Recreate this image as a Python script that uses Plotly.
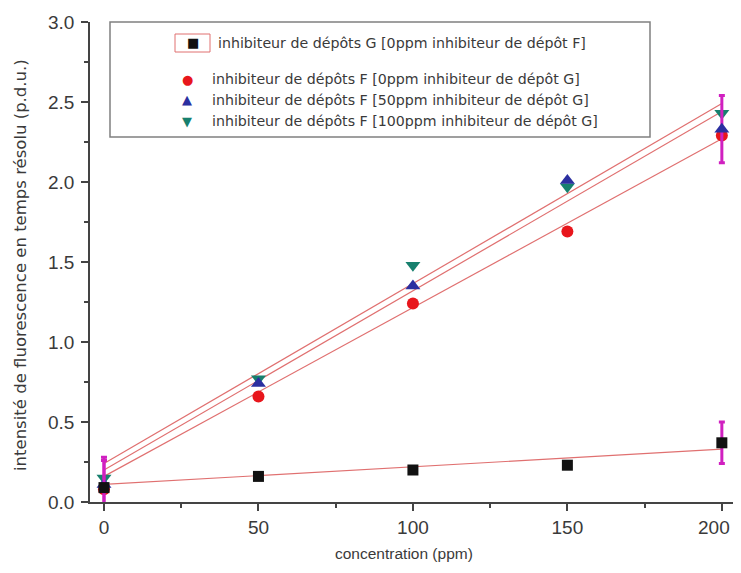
import plotly.graph_objects as go

# ---- data ----
conc = [0, 50, 100, 150, 200]
g_0ppmF = [0.09, 0.16, 0.20, 0.23, 0.37]          # inhibiteur G, 0ppm F
f_0ppmG = [0.08, 0.66, 1.24, 1.69, 2.29]          # inhibiteur F, 0ppm G
f_50ppmG = [0.11, 0.74, 1.35, 2.01, 2.33]         # inhibiteur F, 50ppm G
f_100ppmG = [0.15, 0.77, 1.48, 1.97, 2.43]        # inhibiteur F, 100ppm G

g_err = [0.17, 0, 0, 0, 0.13]
f50_err = [0.17, 0, 0, 0, 0.21]

# linear fit lines (end values)
fit_x = [0, 200]
fit_g = [0.11, 0.33]
fit_f0 = [0.16, 2.27]
fit_f50 = [0.20, 2.44]
fit_f100 = [0.24, 2.49]

x_tick_labels = ["0", "50", "100", "150", "200"]
legend_labels = [
    "inhibiteur de dépôts G [0ppm inhibiteur de dépôt F]",
    "inhibiteur de dépôts F [0ppm inhibiteur de dépôt G]",
    "inhibiteur de dépôts F [50ppm inhibiteur de dépôt G]",
    "inhibiteur de dépôts F [100ppm inhibiteur de dépôt G]",
]
x_title = "concentration (ppm)"
y_title = "intensité de fluorescence en temps résolu (p.d.u.)"

# ---- styling ----
OFF = 8                      # page body margin
W, H = 741 - OFF, 573 - 2 * OFF
L, R, T = 90 - OFF, 0, 22 - OFF
B = H - (502 - OFF)
PW, PH = W - L - R, H - T - B
FONT = "Liberation Sans, Arial, sans-serif"
WIDE = "DejaVu Sans, Verdana, sans-serif"
TXT = "#3a3a3a"
FITC = "#e07070"
MAG = "#d020c0"

def px(X):   # reference-pixel x -> paper
    return (X - OFF - L) / PW

def py(Y):   # reference-pixel y -> paper
    return (H - B - (Y - OFF)) / PH

fig = go.Figure()

for ys in [fit_g, fit_f0, fit_f50, fit_f100]:
    fig.add_trace(go.Scatter(x=fit_x, y=ys, mode="lines",
                             line=dict(color=FITC, width=1.2), showlegend=False,
                             hoverinfo="skip"))

fig.add_trace(go.Scatter(x=conc, y=f_0ppmG, mode="markers", showlegend=False,
                         marker=dict(symbol="circle", size=12, color="#e8161c")))
fig.add_trace(go.Scatter(x=conc, y=f_100ppmG, mode="markers", showlegend=False,
                         marker=dict(symbol="triangle-down", size=13, color="#17806e")))
fig.add_trace(go.Scatter(x=conc, y=f_50ppmG, mode="markers", showlegend=False,
                         error_y=dict(type="data", array=f50_err, color=MAG,
                                      thickness=3, width=3),
                         marker=dict(symbol="triangle-up", size=13, color="#2b2fa0")))
fig.add_trace(go.Scatter(x=conc, y=g_0ppmF, mode="markers", showlegend=False,
                         error_y=dict(type="data", array=g_err, color=MAG,
                                      thickness=3, width=3),
                         marker=dict(symbol="square", size=11, color="#111111")))

# ---- legend drawn as box + annotations ----
shapes = [
    dict(type="rect", xref="paper", yref="paper",
         x0=px(110), x1=px(650), y0=py(137), y1=py(22),
         line=dict(color="#808080", width=1.5), fillcolor="rgba(0,0,0,0)"),
    dict(type="rect", xref="paper", yref="paper",
         x0=px(175), x1=px(210), y0=py(52), y1=py(34),
         line=dict(color="#e07070", width=1), fillcolor="rgba(0,0,0,0)"),
]

ann = []
leg_y = [43, 79, 100, 121]
leg_sym = ["■", "●", "▲", "▼"]
leg_col = ["#111111", "#e8161c", "#2b2fa0", "#17806e"]
leg_mx = [193, 187, 187, 187]
leg_tx = [216, 210, 210, 210]
for lab, yy, s, c, mx, tx in zip(legend_labels, leg_y, leg_sym, leg_col, leg_mx, leg_tx):
    ann.append(dict(xref="paper", yref="paper", x=px(mx), y=py(yy), text=s,
                    showarrow=False, xanchor="center", yanchor="middle",
                    font=dict(family="DejaVu Sans", size=13, color=c)))
    ann.append(dict(xref="paper", yref="paper", x=px(tx), y=py(yy), text=lab,
                    showarrow=False, xanchor="left", yanchor="middle",
                    font=dict(family=WIDE, size=14.2, color=TXT)))

ann.append(dict(xref="paper", yref="paper", x=px(404), y=py(553), text=x_title,
                showarrow=False, xanchor="center", yanchor="middle",
                font=dict(family=FONT, size=15.5, color=TXT)))
ann.append(dict(xref="paper", yref="paper", x=px(20), y=py(265), text=y_title,
                showarrow=False, xanchor="center", yanchor="middle", textangle=-90,
                font=dict(family=WIDE, size=16.5, color=TXT)))
# last x tick label placed so it stays inside the visible page
ann.append(dict(xref="paper", yref="paper", x=px(732), y=py(527),
                text=x_tick_labels[-1], showarrow=False,
                xanchor="right", yanchor="middle",
                font=dict(family=FONT, size=19, color=TXT)))

axis_common = dict(showgrid=False, zeroline=False, showline=True,
                   linecolor="#444444", linewidth=1.5, ticks="outside",
                   ticklen=7, tickwidth=1.5, tickcolor="#444444",
                   tickfont=dict(family=FONT, size=19, color=TXT))

fig.update_layout(
    width=W, height=H,
    margin=dict(l=L, r=R, t=T, b=B, autoexpand=False),
    paper_bgcolor="white", plot_bgcolor="white",
    showlegend=False,
    shapes=shapes, annotations=ann,
    xaxis=dict(range=[-4.53, 206.2], tickvals=conc,
               ticktext=x_tick_labels[:-1] + [""],
               minor=dict(ticks="outside", ticklen=4, tickwidth=1.5,
                          tickcolor="#444444", tickvals=[25, 75, 125, 175]),
               **axis_common),
    yaxis=dict(range=[0, 3.0], dtick=0.5, tickformat=".1f",
               ticklabelstandoff=3,
               minor=dict(ticks="outside", ticklen=4, tickwidth=1.5,
                          tickcolor="#444444", dtick=0.25),
               **axis_common),
)

fig.write_html("out.html")
